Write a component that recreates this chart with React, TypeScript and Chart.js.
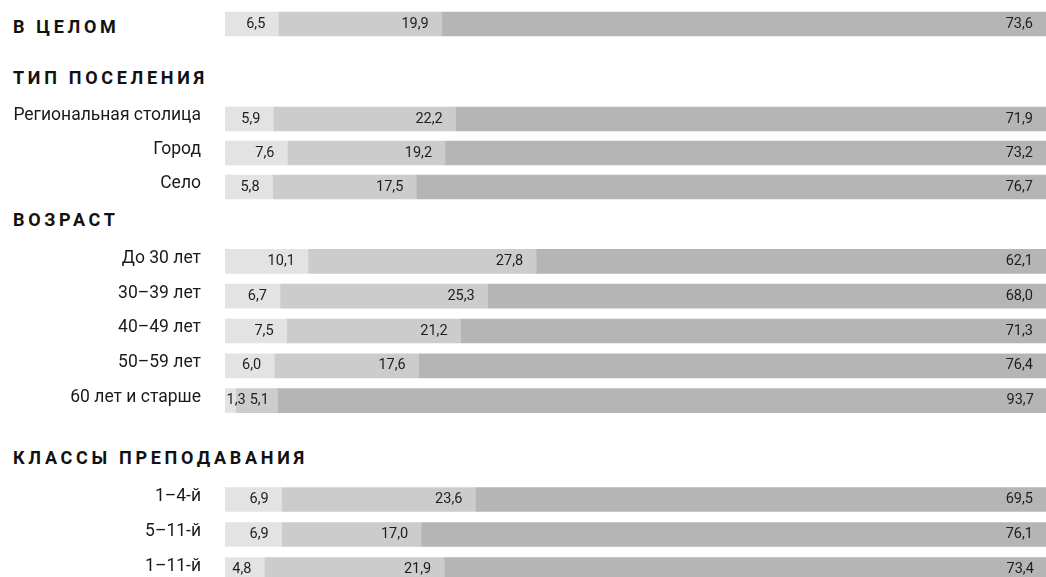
import { useEffect, useRef } from 'react';
import { Chart, registerables } from 'chart.js';

Chart.register(...registerables);

// ---------- data ----------
const HEADINGS = ['В ЦЕЛОМ', 'ТИП ПОСЕЛЕНИЯ', 'ВОЗРАСТ', 'КЛАССЫ ПРЕПОДАВАНИЯ'];

const overallCategories = ['В целом'];
const overallLow = [6.5];
const overallMid = [19.9];
const overallHigh = [73.6];

const settlementCategories = ['Региональная столица', 'Город', 'Село'];
const settlementLow = [5.9, 7.6, 5.8];
const settlementMid = [22.2, 19.2, 17.5];
const settlementHigh = [71.9, 73.2, 76.7];

const ageCategories = ['До 30 лет', '30–39 лет', '40–49 лет', '50–59 лет', '60 лет и старше'];
const ageLow = [10.1, 6.7, 7.5, 6.0, 1.3];
const ageMid = [27.8, 25.3, 21.2, 17.6, 5.1];
const ageHigh = [62.1, 68.0, 71.3, 76.4, 93.7];

const gradeCategories = ['1–4-й', '5–11-й', '1–11-й'];
const gradeLow = [6.9, 6.9, 4.8];
const gradeMid = [23.6, 17.0, 21.9];
const gradeHigh = [69.5, 76.1, 73.4];

// ---------- styles / layout ----------
const COLORS = ['#e3e3e3', '#cccccc', '#b5b5b5'];
const AXIS_WIDTH = 225;

const valueLabels = {
  id: 'valueLabels',
  afterDatasetsDraw(chart: any) {
    const ctx = chart.ctx;
    ctx.save();
    ctx.font = '14.5px Roboto';
    ctx.fillStyle = '#1e1e1e';
    ctx.textBaseline = 'middle';
    ctx.textAlign = 'left';
    const n = chart.data.labels.length;
    for (let i = 0; i < n; i++) {
      let prevRight = -Infinity;
      chart.data.datasets.forEach((ds: any, di: number) => {
        const v = ds.data[i];
        if (v == null) return;
        const bar: any = chart.getDatasetMeta(di).data[i];
        const text = Number(v).toFixed(1).replace('.', ',');
        const w = ctx.measureText(text).width;
        const p = bar.getProps(['x', 'base', 'y'], true);
        let left = p.x - 13 - w;
        if (left < p.base + 1.5) left = p.base + 1.5;
        if (left < prevRight + 4) left = prevRight + 4;
        ctx.fillText(text, left, p.y);
        prevRight = left + w;
      });
    }
    ctx.restore();
  },
};

type SectionProps = {
  categories: string[];
  low: number[];
  mid: number[];
  high: number[];
  showTicks: boolean;
  top: number;
  height: number;
};

function SectionChart({ categories, low, mid, high, showTicks, top, height }: SectionProps) {
  const ref = useRef<HTMLCanvasElement>(null);
  useEffect(() => {
    if (!ref.current) return;
    const chart = new Chart(ref.current, {
      type: 'bar',
      data: {
        labels: categories,
        datasets: [low, mid, high].map((d, i) => ({
          data: d,
          backgroundColor: COLORS[i],
          borderWidth: 0,
          barThickness: 24,
        })),
      },
      options: {
        indexAxis: 'y',
        animation: false,
        responsive: true,
        maintainAspectRatio: false,
        layout: { padding: 0 },
        plugins: { legend: { display: false }, tooltip: { enabled: false } },
        scales: {
          x: {
            stacked: true,
            min: 0,
            max: 100,
            display: false,
          },
          y: {
            stacked: true,
            grid: { display: false, drawTicks: false },
            border: { display: false },
            afterFit: (scale: any) => {
              scale.width = AXIS_WIDTH;
              scale.paddingTop = 0;
              scale.paddingBottom = 0;
            },
            ticks: {
              display: showTicks,
              padding: 24,
              labelOffset: -3,
              color: '#1a1a1a',
              font: { family: 'Roboto', size: 17.5 },
            },
          },
        },
      },
      plugins: [valueLabels],
    });
    return () => chart.destroy();
  }, []);
  return (
    <div style={{ position: 'absolute', left: 0, top, width: 1046, height }}>
      <canvas ref={ref} />
    </div>
  );
}

const SECTIONS = [
  { categories: overallCategories, low: overallLow, mid: overallMid, high: overallHigh, showTicks: false, top: 7, height: 34, headingTop: 17 },
  { categories: settlementCategories, low: settlementLow, mid: settlementMid, high: settlementHigh, showTicks: true, top: 102, height: 102, headingTop: 68 },
  { categories: ageCategories, low: ageLow, mid: ageMid, high: ageHigh, showTicks: true, top: 244, height: 174, headingTop: 210 },
  { categories: gradeCategories, low: gradeLow, mid: gradeMid, high: gradeHigh, showTicks: true, top: 482, height: 105, headingTop: 448 },
];

export default function App() {
  return (
    <div
      style={{
        position: 'absolute',
        left: 0,
        top: 0,
        width: 1046,
        height: 577,
        overflow: 'hidden',
        background: '#ffffff',
      }}
    >
      {SECTIONS.map((s, i) => (
        <div
          key={'h' + i}
          style={{
            position: 'absolute',
            left: 13,
            top: s.headingTop,
            fontFamily: 'Roboto',
            fontWeight: 700,
            fontSize: 18,
            lineHeight: '20px',
            letterSpacing: '3.7px',
            color: '#111111',
            whiteSpace: 'nowrap',
          }}
        >
          {HEADINGS[i]}
        </div>
      ))}
      {SECTIONS.map((s, i) => (
        <SectionChart
          key={'c' + i}
          categories={s.categories}
          low={s.low}
          mid={s.mid}
          high={s.high}
          showTicks={s.showTicks}
          top={s.top}
          height={s.height}
        />
      ))}
    </div>
  );
}
